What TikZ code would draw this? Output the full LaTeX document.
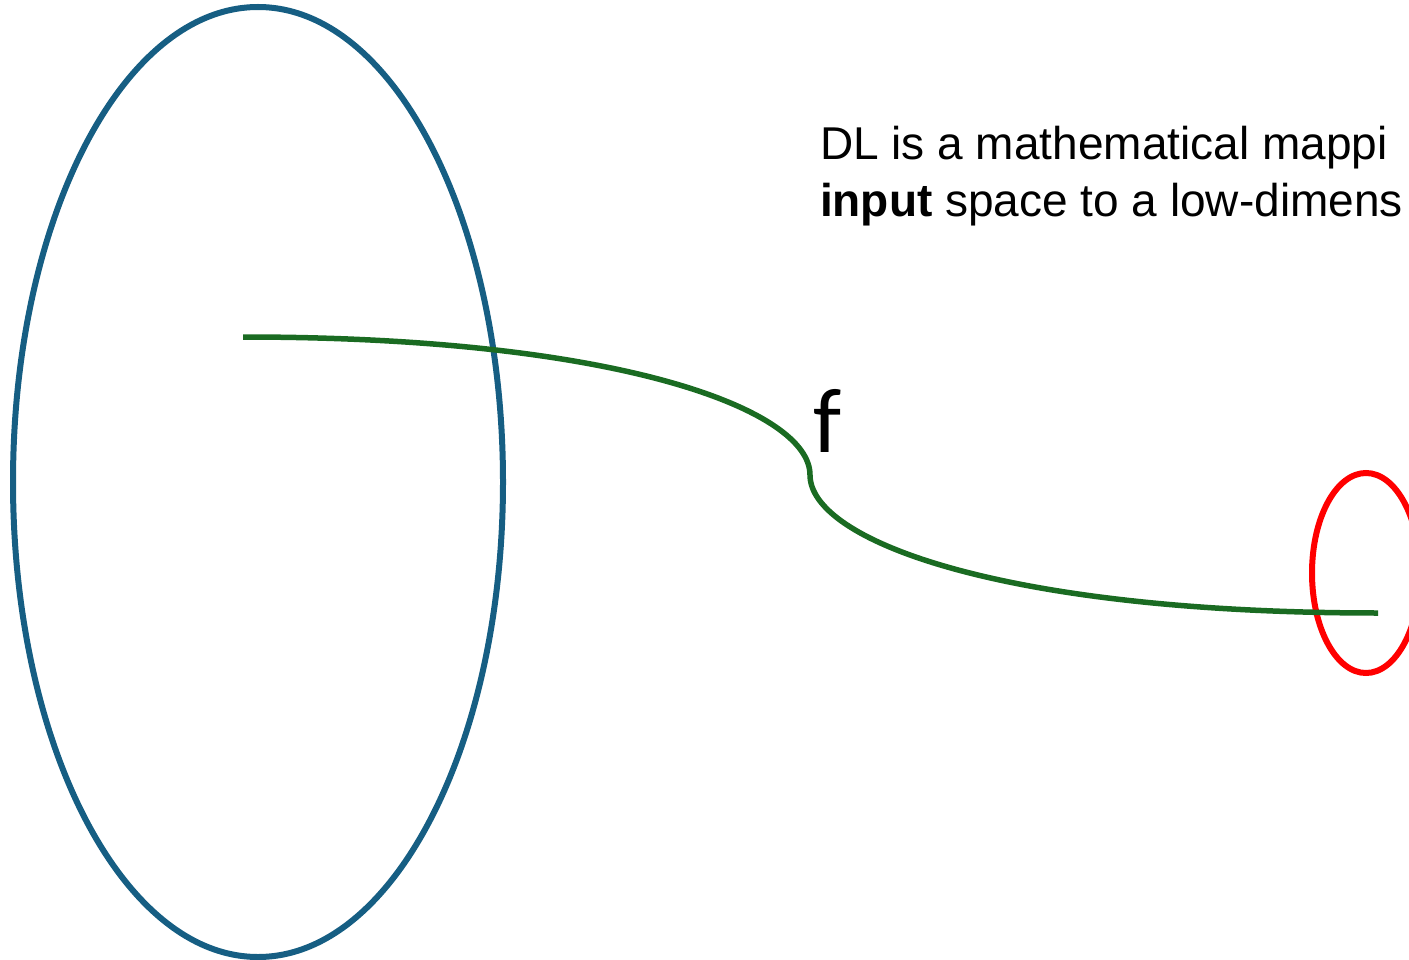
\documentclass[tikz,border=0pt]{standalone}
\usepackage{fontspec}
\setmainfont{Liberation Sans}
\newfontfamily\labelfont{Carlito}
\usepackage{tikz}
\definecolor{spaceblue}{RGB}{22,94,131}
\definecolor{mapgreen}{RGB}{26,107,34}
\definecolor{lowred}{RGB}{255,0,0}
\tikzset{every picture/.style={line width=6pt}}

\begin{document}
\begin{tikzpicture}[x=1pt,y=-1pt,
 every node/.style={font=\fontsize{46}{57}\selectfont,inner sep=0pt}]
 \useasboundingbox (0,0) rectangle (1409,960);
 \clip (0,0) rectangle (1409,960);
 % The high-dimensional input space and the low-dimensional one.
 \draw[spaceblue] (258,482) ellipse [x radius=245,y radius=475];
 \draw[lowred] (1366,573) ellipse [x radius=54,y radius=100];

 % The mapping f, one smooth S-shaped curve.
 \coordinate (src) at (243,337);
 \coordinate (mid) at (810,475);
 \coordinate (dst) at (1378,613);
 \draw[mapgreen,line width=5.5pt]
  (src) .. controls (620,337) and (810,410) .. (mid)
  .. controls (810,540) and (1000,613) .. (dst);
 \node[anchor=base west,font=\labelfont\fontsize{92}{92}\selectfont]
  (flabel) at (810,452) {f};

 \node[anchor=base west] (line1) at (817,160) {DL is a mathematical mappi};
 \node[anchor=base west] (line2) at (817,217)
  {\textbf{input} space to a low-dimens};
\end{tikzpicture}
\end{document}
